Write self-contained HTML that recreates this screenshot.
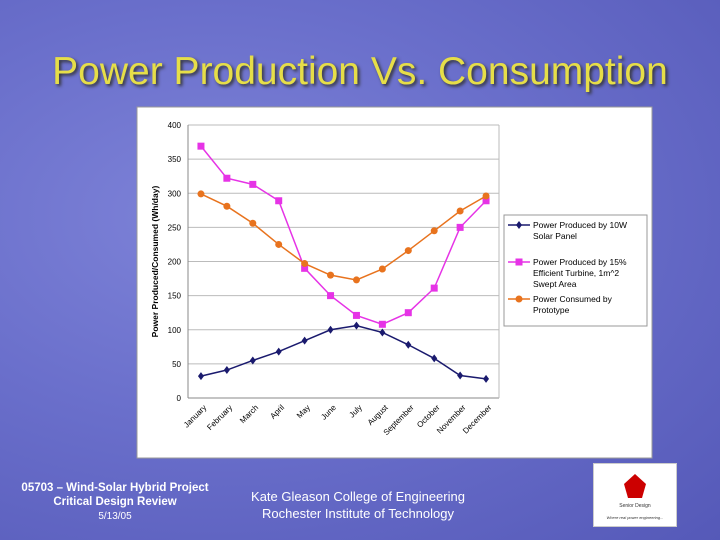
<!DOCTYPE html>
<html><head><meta charset="utf-8"><style>
body{margin:0;width:720px;height:540px;overflow:hidden;font-family:"Liberation Sans",sans-serif}
#bg{position:absolute;left:0;top:0;width:720px;height:540px;background:radial-gradient(ellipse at 30% 40%,#7e83d8 0%,#6a6fcb 45%,#5559b8 100%)}
.t{position:absolute;color:#fff}
</style></head><body>
<div id="bg"></div>
<div class="t" style="left:0;width:720px;top:49px;text-align:center;font-size:39px;line-height:45px;color:#e6de48;text-shadow:2px 2px 3px #333;white-space:nowrap">Power Production Vs. Consumption</div>
<svg id="ch" style="position:absolute;left:0;top:0" width="720" height="540"></svg>
<div class="t" style="left:10px;width:210px;top:481px;text-align:center;font-size:11.5px;font-weight:bold;line-height:14px">05703 – Wind-Solar Hybrid Project<br>Critical Design Review<br><span style="font-weight:normal;font-size:10px">5/13/05</span></div>
<div class="t" style="left:228px;width:260px;top:488px;text-align:center;font-size:13px;line-height:17px">Kate Gleason College of Engineering<br>Rochester Institute of Technology</div>
<div style="position:absolute;left:593px;top:463px;width:82px;height:62px;background:#fff;border:1px solid #ccc">
<svg width="82" height="62"><polygon points="41,10 52,20 48,34 34,34 30,20" fill="#c00"/><text x="41" y="43" font-size="5" text-anchor="middle" fill="#333">Senior Design</text><text x="41" y="55" font-size="4" text-anchor="middle" fill="#333" font-style="italic">Where real power engineering...</text></svg></div>
<script>
const months=["January","February","March","April","May","June","July","August","September","October","November","December"];
const solar=[32,41,55,68,84,100,106,96,78,58,33,28];
const turbine=[369,322,313,289,190,150,121,108,125,161,250,289];
const consumed=[299,281,256,225,197,180,173,189,216,245,274,296];
const yTicks=[0,50,100,150,200,250,300,350,400];
const legendLabels=[["Power Produced by 10W","Solar Panel"],["Power Produced by 15%","Efficient Turbine, 1m^2","Swept Area"],["Power Consumed by","Prototype"]];
const NS="http://www.w3.org/2000/svg",svg=document.getElementById('ch');
const L=188,R=499,T=125,B=398;
const x=i=>L+(R-L)/months.length*(i+0.5);
const y=v=>B-(B-T)*v/400;
function mk(t,a,p){const e=document.createElementNS(NS,t);for(const k in a)e.setAttribute(k,a[k]);(p||svg).appendChild(e);return e;}
let e=mk('rect',{x:137,y:107,width:515,height:351,fill:'#fff',stroke:'#999'});


yTicks.forEach(v=>{
 if(v>0){let g=mk('line',{x1:L,x2:R,y1:y(v),y2:y(v),stroke:'#bbb'});}
 let t=mk('text',{x:181,y:y(v)+3,'font-size':8,'text-anchor':'end',fill:'#000'});t.textContent=v;
 
 
});
mk('line',{x1:L,x2:L,y1:T,y2:B,stroke:'#888'});mk('line',{x1:L,x2:R,y1:B,y2:B,stroke:'#888'});mk('line',{x1:R,x2:R,y1:T,y2:B,stroke:'#bbb'});
months.forEach((m,i)=>{
 let t=mk('text',{x:x(i)+6,y:B+10,'font-size':8,'text-anchor':'end',transform:`rotate(-45 ${x(i)+6} ${B+10})`});t.textContent=m;
 
 
});
let yt=mk('text',{x:158,y:(T+B)/2,'font-size':8.5,'font-weight':'bold','text-anchor':'middle',transform:`rotate(-90 158 ${(T+B)/2})`});
yt.textContent="Power Produced/Consumed (Wh/day)";


const series=[[solar,'#1a1a6e','diamond','solar-series'],[turbine,'#e633e6','square','turbine-series'],[consumed,'#e8731e','circle','consumed-series']];
function marker(cx,cy,c,s,p){if(s==='square')mk('rect',{x:cx-3.5,y:cy-3.5,width:7,height:7,fill:c},p);else if(s==='circle')mk('circle',{cx,cy,r:3.5,fill:c},p);else mk('polygon',{points:`${cx},${cy-4} ${cx+3},${cy} ${cx},${cy+4} ${cx-3},${cy}`,fill:c},p);}
series.forEach(([d,c,s,n])=>{
 const g=mk('g',{});
 
 
 mk('polyline',{points:d.map((v,i)=>x(i)+','+y(v)).join(' '),fill:'none',stroke:c,'stroke-width':1.5},g);
 d.forEach((v,i)=>marker(x(i),y(v),c,s,g));
});
let lg=mk('g',{});


mk('rect',{x:504,y:215,width:143,height:111,fill:'#fff',stroke:'#999'},lg);
const ly=[225,262,299];
legendLabels.forEach((ls,k)=>{
 const [d,c,s]=series[k];
 mk('line',{x1:508,x2:530,y1:ly[k],y2:ly[k],stroke:c,'stroke-width':1.5},lg);marker(519,ly[k],c,s,lg);
 ls.forEach((l,j)=>{let t=mk('text',{x:533,y:ly[k]+3+j*11,'font-size':8.5},lg);t.textContent=l;});
});
</script>
</body></html>
